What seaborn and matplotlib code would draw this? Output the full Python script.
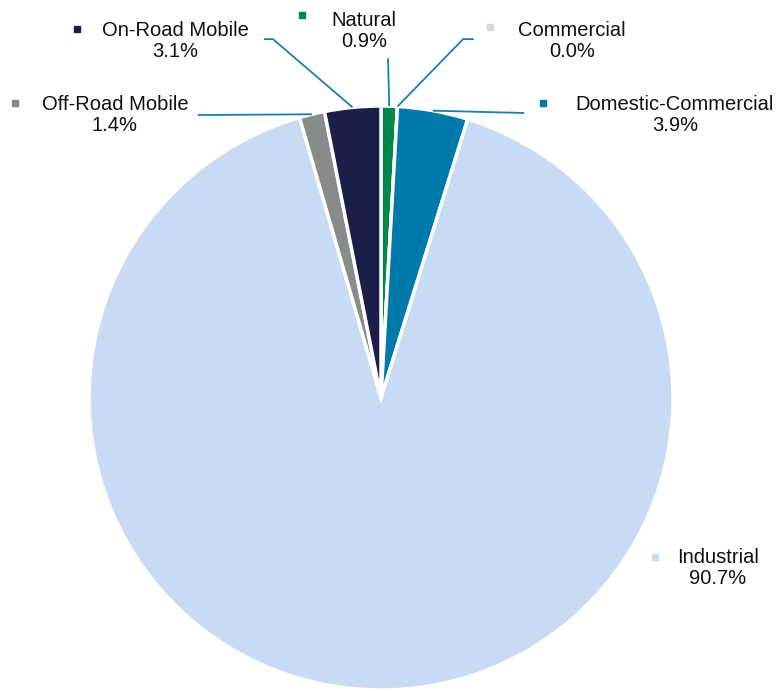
import numpy as np
import matplotlib.pyplot as plt
import seaborn as sns

# slices, clockwise from 12 o'clock
categories = ["Natural", "Commercial", "Domestic-Commercial", "Industrial",
              "Off-Road Mobile", "On-Road Mobile"]
shares = [0.9, 0.0, 3.9, 90.7, 1.4, 3.1]
colors = ["#00894b", "#d9d9d9", "#007aab", "#c9daf5", "#858c89", "#1b1e48"]

# label block centres (data units, pie radius = 1)
label_xy = {
    "Natural": (-0.058, 1.257),
    "Commercial": (0.654, 1.223),
    "Domestic-Commercial": (1.007, 0.968),
    "Industrial": (1.154, -0.582),
    "Off-Road Mobile": (-0.911, 0.968),
    "On-Road Mobile": (-0.705, 1.223),
}
# marker squares next to the name line
marker_xy = {
    "Natural": (-0.271, 1.312),
    "Commercial": (0.373, 1.270),
    "Domestic-Commercial": (0.555, 1.010),
    "Industrial": (0.938, -0.545),
    "Off-Road Mobile": (-1.253, 1.010),
    "On-Road Mobile": (-1.041, 1.264),
}
# leader lines: points from text side towards the slice (None = no leader)
leader_pts = {
    "Natural": [(0.024, 1.164)],
    "Commercial": [(0.318, 1.229), (0.281, 1.229)],
    "Domestic-Commercial": [(0.490, 0.976)],
    "Industrial": None,
    "Off-Road Mobile": [(-0.627, 0.969)],
    "On-Road Mobile": [(-0.401, 1.229), (-0.370, 1.229)],
}

sns.set_style("white")
plt.rcParams["font.family"] = ["Liberation Sans", "DejaVu Sans"]

fig = plt.figure(figsize=(7.81, 6.91), dpi=100)
ax = fig.add_axes([0, 0, 1, 1])

ax.pie(shares, colors=colors, startangle=90, counterclock=False, radius=1.0,
       wedgeprops=dict(edgecolor="white", linewidth=2.5))

line_color = "#1a7fb0"
cum = np.cumsum([0] + shares[:-1])
for cat, start, val, col in zip(categories, cum, shares, colors):
    mid = np.deg2rad(90 - (start + val / 2) * 3.6)
    anchor = (np.cos(mid), np.sin(mid))
    pts = leader_pts[cat]
    if pts is not None:
        xs = [p[0] for p in pts] + [anchor[0]]
        ys = [p[1] for p in pts] + [anchor[1]]
        ax.plot(xs, ys, color=line_color, lw=1.3, solid_capstyle="butt")
    tx, ty = label_xy[cat]
    ax.text(tx, ty, f"{cat}\n{val:.1f}%", ha="center", va="center",
            fontsize=14.5, color="#111111", linespacing=1.15)
    mx, my = marker_xy[cat]
    ax.plot(mx, my, marker="s", markersize=4.5, color=col, linestyle="none")

ax.set_xlim(-381 / 292, 400 / 292)
ax.set_ylim(-293 / 292, 398 / 292)
ax.set_aspect("auto")
ax.axis("off")

fig.savefig("out.png", dpi=100)
